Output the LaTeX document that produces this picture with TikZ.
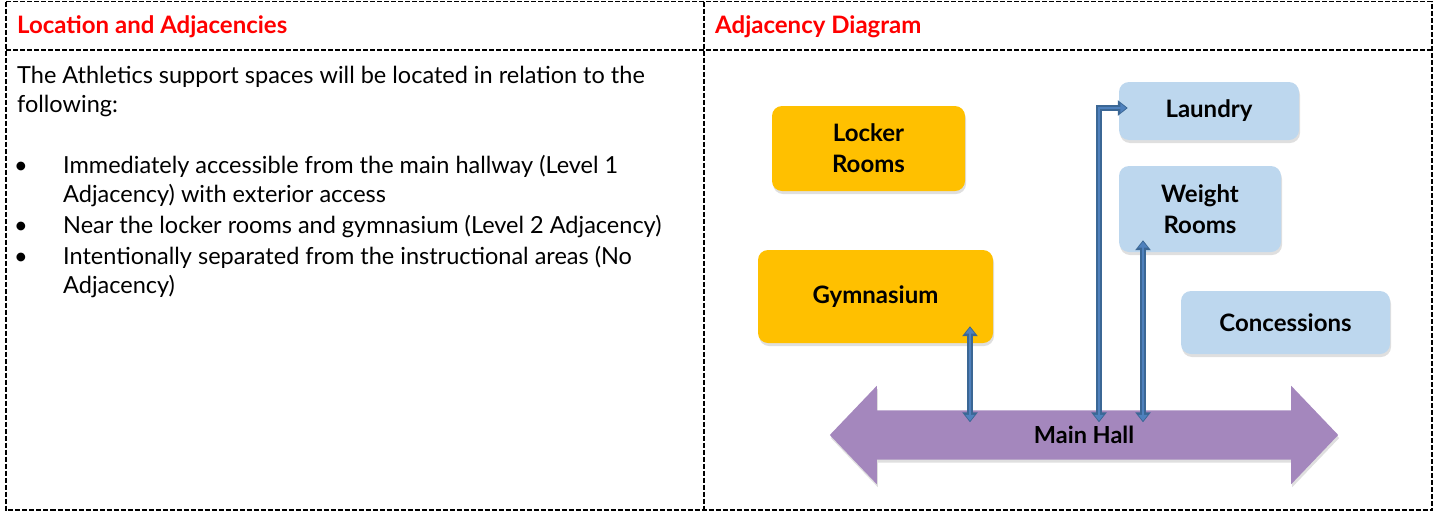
\documentclass[tikz,border=0pt]{standalone}
\usepackage{fontspec}
\setmainfont{Lato}
\usetikzlibrary{calc,shadows,arrows.meta}
\definecolor{hdrred}{HTML}{FF0000}
\definecolor{orangebox}{HTML}{FFC000}
\definecolor{bluebox}{HTML}{BDD7EE}
\definecolor{hallpurple}{HTML}{A487BD}
\definecolor{arrowlight}{HTML}{4F81BD}
\definecolor{arrowdark}{HTML}{3B6795}
\tikzset{
  tableline/.style={line width=1.6pt, dash pattern=on 5pt off 2pt},
  header/.style={anchor=base west, font=\fontsize{24}{28}\selectfont\bfseries, text=hdrred, inner sep=0pt},
  bodytext/.style={anchor=base west, font=\fontsize{23.5}{28}\selectfont, inner sep=0pt},
  bulletdot/.style={anchor=base, font=\fontsize{23.5}{28}\selectfont, inner sep=0pt},
  room/.style={rounded corners=10pt, align=center, font=\fontsize{24}{31}\selectfont\bfseries,
    drop shadow={opacity=0.25, shadow xshift=1pt, shadow yshift=-3pt}},
  orangeroom/.style={room, fill=orangebox},
  blueroom/.style={room, fill=bluebox},
  linkdark/.style={draw=arrowdark, line width=5.5pt, {Triangle[width=15pt,length=10pt]}-{Triangle[width=15pt,length=10pt]}},
  linklight/.style={draw=arrowlight, line width=2.5pt, shorten <=1.5pt, shorten >=1.5pt, {Triangle[width=9pt,length=6pt]}-{Triangle[width=9pt,length=6pt]}},
}
\begin{document}
\begin{tikzpicture}[x=1pt,y=-1pt]
\useasboundingbox (0,0) rectangle (1435,512);
% table
\draw[tableline] (6,1.5) rectangle (1432,510);
\draw[tableline] (6,50) -- (1432,50);
\draw[tableline] (704,1.5) -- (704,510);
% headers
\node[header] (h1) at (17,33) {Location and Adjacencies};
\node[header] (h2) at (715,33) {Adjacency Diagram};
% left text
\node[bodytext] (t1) at (17,83) {The Athletics support spaces will be located in relation to the};
\node[bodytext] (t2) at (17,112) {following:};
\node[bulletdot] (b1) at (21,173) {•};
\node[bodytext] (t3) at (63,173) {Immediately accessible from the main hallway (Level 1};
\node[bodytext] (t4) at (63,202) {Adjacency) with exterior access};
\node[bulletdot] (b2) at (21,233) {•};
\node[bodytext] (t5) at (63,233) {Near the locker rooms and gymnasium (Level 2 Adjacency)};
\node[bulletdot] (b3) at (21,264) {•};
\node[bodytext] (t6) at (63,264) {Intentionally separated from the instructional areas (No};
\node[bodytext] (t7) at (63,293) {Adjacency)};
% rooms
\node[orangeroom, minimum width=193pt, minimum height=85pt] (locker) at (868.5,148.5) {Locker\\Rooms};
\node[orangeroom, minimum width=235pt, minimum height=93pt] (gym) at (875.5,296.5) {Gymnasium};
\node[blueroom, minimum width=180pt, minimum height=58pt] (laundry) at (1209,111) {Laundry};
\node[blueroom, minimum width=162pt, minimum height=86pt] (weight) at (1200,209) {Weight\\Rooms};
\node[blueroom, minimum width=209pt, minimum height=63pt] (conc) at (1285.5,322.5) {Concessions};
% main hall
\node[minimum width=414pt, minimum height=49pt, inner sep=0pt] (hall) at (1084,435) {};
\fill[hallpurple, drop shadow={opacity=0.25, shadow xshift=1pt, shadow yshift=-3pt}]
  (hall.north west) -- ($(hall.north west)+(0,-24.5)$) -- ($(hall.west)+(-47,0)$)
  -- ($(hall.south west)+(0,24.5)$) -- (hall.south west) -- (hall.south east)
  -- ($(hall.south east)+(0,24.5)$) -- ($(hall.east)+(47,0)$)
  -- ($(hall.north east)+(0,-24.5)$) -- (hall.north east) -- cycle;
\node[font=\fontsize{23.5}{28}\selectfont\bfseries] (halltext) at (hall.center) {Main Hall};
% connectors
\coordinate (g1) at ([shift={(94.5,-17)}]gym.south);
\coordinate (g2) at ([shift={(-114,12)}]hall.north);
\coordinate (l1) at ([shift={(15,12)}]hall.north);
\coordinate (l2) at ([shift={(9,-3)}]laundry.west);
\coordinate (w1) at ([shift={(-57,-12)}]weight.south);
\coordinate (w2) at ([shift={(59,12)}]hall.north);
\draw[linkdark] (g1) -- (g2);
\draw[linklight] (g1) -- (g2);
\draw[linkdark] (l1) |- (l2);
\draw[linklight] (l1) |- (l2);
\draw[linkdark] (w1) -- (w2);
\draw[linklight] (w1) -- (w2);
\end{tikzpicture}
\end{document}
